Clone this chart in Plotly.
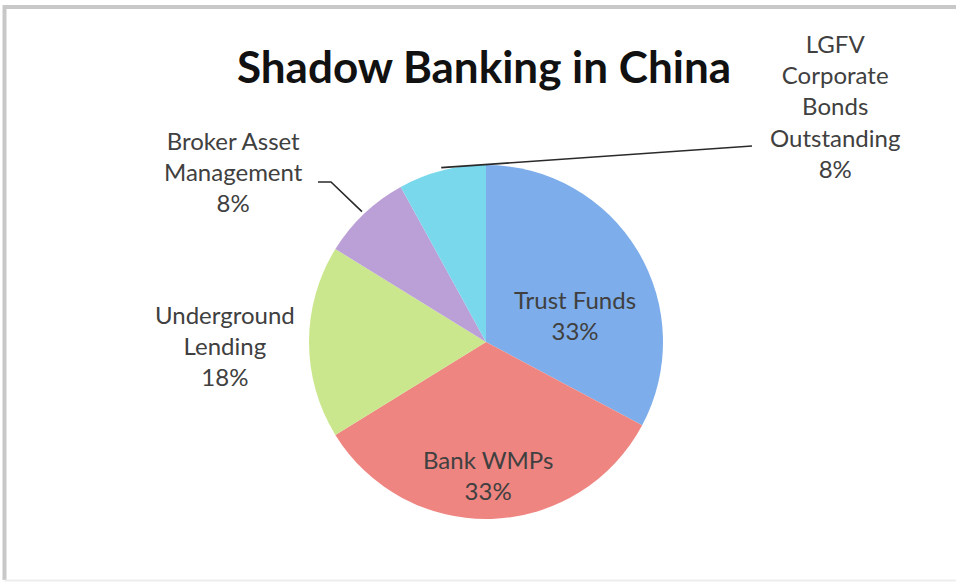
import math
import plotly.graph_objects as go

# ---- data ----
title_text = "Shadow Banking in China"
labels = ["Trust Funds", "Bank WMPs", "Underground Lending",
          "Broker Asset Management", "LGFV Corporate Bonds Outstanding"]
label_lines = [["Trust Funds"], ["Bank WMPs"], ["Underground", "Lending"],
               ["Broker Asset", "Management"],
               ["LGFV", "Corporate", "Bonds", "Outstanding"]]
values = [32.8, 33.4, 17.6, 8.2, 8.0]
colors = ["#7dadea", "#ee8581", "#cbe78d", "#bba0d8", "#7ad8ec"]

# ---- layout geometry (pixels) ----
W, H = 956, 582
CX, CY, R = 486, 342, 177
label_pos = [(575, 315), (488, 475), (225, 345), (233, 171), (835, 106)]
leader_start = {3: [(318, 182), (331, 182)], 4: [(752, 146)]}

def px(x):
    return x / W

def py(y):
    return 1 - y / H

total = sum(values)
pcts = [round(v / total * 100) for v in values]

fig = go.Figure(go.Pie(
    labels=labels, values=values, sort=False, direction="clockwise",
    rotation=0, marker=dict(colors=colors, line=dict(width=0)),
    textinfo="none", hoverinfo="label+percent",
    domain=dict(x=[px(CX - R), px(CX + R)], y=[py(CY + R), py(CY - R)]),
    showlegend=False,
))

annotations = []
for i, lines in enumerate(label_lines):
    x, y = label_pos[i]
    annotations.append(dict(
        x=px(x), y=py(y), xref="paper", yref="paper",
        text="<br>".join(lines + [f"{pcts[i]}%"]), showarrow=False,
        xanchor="center", yanchor="middle", align="center",
        font=dict(family="Lato", size=24, color="#404040"),
    ))

shapes = []
# leader lines: tip at the middle angle of the slice, on the rim
cum = 0
for i, v in enumerate(values):
    mid = (cum + v / 2) / total * 2 * math.pi
    cum += v
    if i in leader_start:
        tx = CX + (R + 3) * math.sin(mid)
        ty = CY - (R + 3) * math.cos(mid)
        pts = leader_start[i] + [(tx, ty)]
        path = "M " + " L ".join(f"{px(a):.5f},{py(b):.5f}" for a, b in pts)
        shapes.append(dict(type="path", path=path, xref="paper", yref="paper",
                           line=dict(color="#2a2a2a", width=1.6)))

# chart frame (cropped at right)
shapes.append(dict(type="path", xref="paper", yref="paper",
                   path=f"M {px(4.5)},{py(580)} L {px(4.5)},{py(7)} L 1.01,{py(7)}",
                   line=dict(color="#c8c8c8", width=4)))
shapes.append(dict(type="line", xref="paper", yref="paper",
                   x0=px(4.5), x1=1.01, y0=py(580.5), y1=py(580.5),
                   line=dict(color="#ededed", width=2)))

fig.update_layout(
    width=W, height=H, margin=dict(l=0, r=0, t=0, b=0),
    paper_bgcolor="white", plot_bgcolor="white",
    title=dict(text=title_text, x=px(484), y=py(68), xanchor="center",
               yanchor="middle", xref="paper", yref="paper",
               font=dict(family="Lato", size=44, color="#111111", weight=700)),
    annotations=annotations, shapes=shapes,
)

fig.write_html("out.html")
